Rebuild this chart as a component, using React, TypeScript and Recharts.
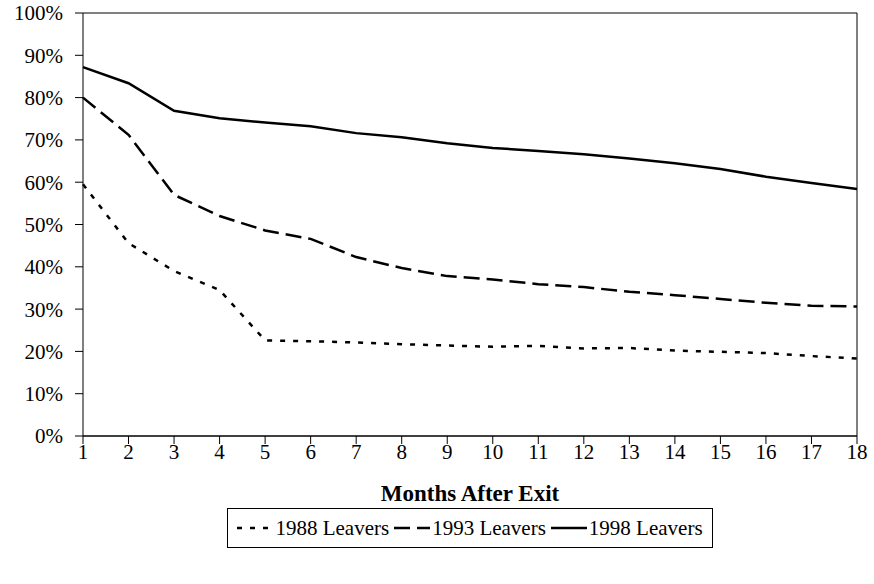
import React from "react";
import { LineChart, Line, XAxis, YAxis, CartesianGrid, Legend } from "recharts";

// Months after exit (x-axis categories)
const months = [1, 2, 3, 4, 5, 6, 7, 8, 9, 10, 11, 12, 13, 14, 15, 16, 17, 18];

// Share of leavers, in percent, by cohort
const leavers1988 = [59.5, 45.6, 39.0, 34.5, 22.6, 22.4, 22.1, 21.7, 21.4, 21.1, 21.3, 20.7, 20.8, 20.2, 19.9, 19.6, 18.9, 18.3];
const leavers1993 = [80.0, 71.2, 57.0, 52.0, 48.6, 46.6, 42.3, 39.7, 37.8, 37.0, 35.9, 35.2, 34.1, 33.3, 32.4, 31.5, 30.8, 30.6];
const leavers1998 = [87.2, 83.4, 76.9, 75.1, 74.1, 73.2, 71.6, 70.6, 69.2, 68.1, 67.4, 66.6, 65.6, 64.5, 63.1, 61.3, 59.8, 58.4];

const yTicks = [0, 10, 20, 30, 40, 50, 60, 70, 80, 90, 100];

const seriesNames = ["1988 Leavers", "1993 Leavers", "1998 Leavers"];

const data = months.map((m, i) => ({
  month: m,
  l1988: leavers1988[i],
  l1993: leavers1993[i],
  l1998: leavers1998[i],
}));

const FONT = "'Liberation Serif', 'Times New Roman', serif";
const FONT_SIZE = 21;

const styles = [
  { key: "l1988", dash: "5 8", width: 2.5 },
  { key: "l1993", dash: "16 7", width: 2.5 },
  { key: "l1998", dash: undefined as string | undefined, width: 2.5 },
];

const LegendBox = () => (
  <div
    style={{
      boxSizing: "border-box",
      height: 40,
      width: 486,
      border: "1px solid #000",
      display: "flex",
      alignItems: "center",
      justifyContent: "center",
      gap: 5,
      fontFamily: FONT,
      fontSize: FONT_SIZE,
      color: "#000",
      whiteSpace: "nowrap",
    }}
  >
    {styles.map((s, i) => (
      <div key={s.key} style={{ display: "flex", alignItems: "center" }}>
        <svg width={36} height={10} style={{ marginRight: 2 }}>
          <line x1={0} y1={5} x2={36} y2={5} stroke="#000" strokeWidth={s.width} strokeDasharray={s.dash} />
        </svg>
        <span>{seriesNames[i]}</span>
      </div>
    ))}
  </div>
);

export default function App() {
  return (
    <div style={{ position: "absolute", left: 0, top: 0, background: "#fff" }}>
      <LineChart
        width={874}
        height={584}
        data={data}
        margin={{ top: 13, right: 0, left: 0, bottom: 36 }}
      >
        <CartesianGrid vertical={false} stroke="#000" strokeWidth={1} />
        <XAxis
          dataKey="month"
          type="category"
          height={72}
          tickSize={8}
          tickMargin={0}
          tickLine={{ stroke: "#000" }}
          axisLine={{ stroke: "#000" }}
          tick={{ fill: "#000", fontFamily: FONT, fontSize: FONT_SIZE }}
          interval={0}
          label={{
            value: "Months After Exit",
            position: "insideBottom",
            offset: 7,
            style: { fill: "#000", fontFamily: FONT, fontSize: 23, fontWeight: "bold" },
          }}
        />
        <YAxis
          yAxisId="left"
          width={83}
          domain={[0, 100]}
          ticks={yTicks}
          interval={0}
          tickSize={8}
          tickMargin={12}
          tickLine={{ stroke: "#000" }}
          axisLine={{ stroke: "#000" }}
          tickFormatter={(v: number) => `${v}%`}
          tick={{ fill: "#000", fontFamily: FONT, fontSize: FONT_SIZE }}
        />
        <YAxis
          yAxisId="right"
          orientation="right"
          width={17}
          domain={[0, 100]}
          tick={false}
          tickLine={false}
          axisLine={{ stroke: "#000" }}
        />
        <Legend
          verticalAlign="bottom"
          width={486}
          wrapperStyle={{ left: 227 }}
          content={() => <LegendBox />}
        />
        {styles.map((s, i) => (
          <Line
            key={s.key}
            yAxisId="left"
            dataKey={s.key}
            name={seriesNames[i]}
            stroke="#000"
            strokeWidth={s.width}
            strokeDasharray={s.dash}
            dot={false}
            activeDot={false}
            isAnimationActive={false}
          />
        ))}
      </LineChart>
    </div>
  );
}
